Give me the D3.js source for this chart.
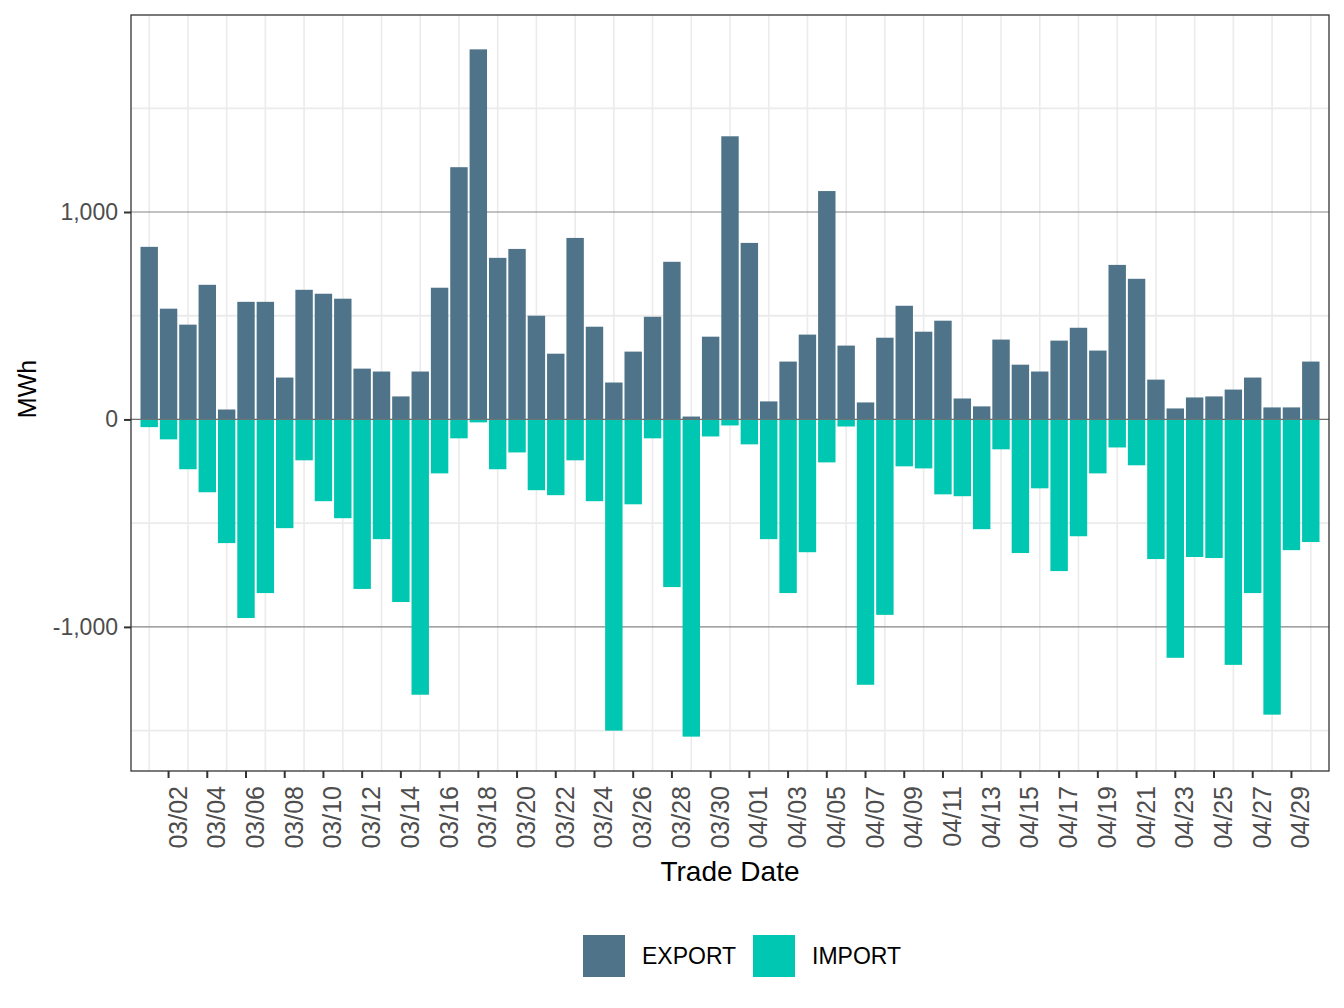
<!DOCTYPE html>
<html>
<head>
<meta charset="utf-8">
<script src="https://cdn.jsdelivr.net/npm/d3@7"></script>
<style>
body { margin: 0; background: #fff; }
text { font-family: "Liberation Sans", Arial, sans-serif; }
</style>
</head>
<body>
<script>
// trade dates (one bar pair per day)
var dates = [
	"03/01","03/02","03/03","03/04","03/05","03/06","03/07","03/08","03/09","03/10",
	"03/11","03/12","03/13","03/14","03/15","03/16","03/17","03/18","03/19","03/20",
	"03/21","03/22","03/23","03/24","03/25","03/26","03/27","03/28","03/29","03/30","03/31",
	"04/01","04/02","04/03","04/04","04/05","04/06","04/07","04/08","04/09","04/10",
	"04/11","04/12","04/13","04/14","04/15","04/16","04/17","04/18","04/19","04/20",
	"04/21","04/22","04/23","04/24","04/25","04/26","04/27","04/28","04/29","04/30"
];

var exportMWh = [
	832, 534, 457, 649, 48, 567, 567, 202, 625, 606, 582, 245, 231, 111, 231,
	635, 1216, 1784, 779, 822, 500, 317, 875, 447, 178, 327, 495, 760, 14, 399,
	1365, 851, 87, 279, 409, 1101, 356, 82, 394, 548, 423, 476, 101, 63, 385, 264,
	231, 380, 442, 332, 745, 678, 192, 53, 106, 111, 144, 202, 58, 58, 279
];

var importMWh = [
	-37, -96, -240, -351, -596, -957, -837, -524, -197, -394, -476, -817, -577, -880, -1327,
	-260, -91, -14, -240, -159, -341, -365, -197, -394, -1500, -409, -91, -808, -1529, -82,
	-29, -120, -577, -837, -640, -207, -34, -1279, -942, -226, -236, -361, -370, -529, -144, -644,
	-332, -731, -563, -260, -135, -221, -673, -1149, -663, -668, -1183, -837, -1423, -630, -591
];

var tickLabels = [
	"03/02","03/04","03/06","03/08","03/10","03/12","03/14","03/16","03/18","03/20",
	"03/22","03/24","03/26","03/28","03/30","04/01","04/03","04/05","04/07","04/09",
	"04/11","04/13","04/15","04/17","04/19","04/21","04/23","04/25","04/27","04/29"
];
var yTicks = [-1000, 0, 1000];
var yMinor = [-1500, -500, 500, 1500];
var series = ["EXPORT", "IMPORT"];
var colors = ["#4F7489", "#00C7B1"];

var w = 1344, h = 1008;
var pL = 131, pR = 1329, pT = 15, pB = 771;

var svg = d3.select("body")
	.append("svg")
	.attr("width", w)
	.attr("height", h);

//scales
var x = d3.scaleBand()
	.domain(dates)
	.range([pL, pR])
	.paddingInner(0.1)
	.paddingOuter(0.49);

var lo = d3.min(importMWh), hi = d3.max(exportMWh);
var pad = (hi - lo) * 0.05;
var y = d3.scaleLinear()
	.domain([lo - pad, hi + pad])
	.range([pB, pT]);

var cx = d => x(d) + x.bandwidth() / 2;

//grid
svg.selectAll("line.vgrid")
	.data(dates.filter((d, i) => i % 2 == 0))
	.enter()
	.append("line")
	.attr("class", "vgrid")
	.attr("x1", cx).attr("x2", cx)
	.attr("y1", pT).attr("y2", pB)
	.attr("stroke", "#EBEBEB")
	.attr("stroke-width", 1.6);

svg.selectAll("line.hminor")
	.data(yMinor)
	.enter()
	.append("line")
	.attr("class", "hminor")
	.attr("x1", pL).attr("x2", pR)
	.attr("y1", d => y(d)).attr("y2", d => y(d))
	.attr("stroke", "#EBEBEB")
	.attr("stroke-width", 1.8);

svg.selectAll("line.hmajor")
	.data(yTicks)
	.enter()
	.append("line")
	.attr("class", "hmajor")
	.attr("x1", pL).attr("x2", pR)
	.attr("y1", d => y(d)).attr("y2", d => y(d))
	.attr("stroke", "#858585")
	.attr("stroke-width", 1.2);

//bars
svg.selectAll("rect.export")
	.data(dates)
	.enter()
	.append("rect")
	.attr("class", "export")
	.attr("x", d => x(d))
	.attr("width", x.bandwidth())
	.attr("y", (d, i) => y(exportMWh[i]))
	.attr("height", (d, i) => y(0) - y(exportMWh[i]))
	.attr("fill", colors[0]);

svg.selectAll("rect.import")
	.data(dates)
	.enter()
	.append("rect")
	.attr("class", "import")
	.attr("x", d => x(d))
	.attr("width", x.bandwidth())
	.attr("y", y(0))
	.attr("height", (d, i) => y(importMWh[i]) - y(0))
	.attr("fill", colors[1]);

// zero line shows over the bar joint
svg.append("line")
	.attr("x1", pL).attr("x2", pR)
	.attr("y1", y(0)).attr("y2", y(0))
	.attr("stroke", "#707070")
	.attr("stroke-width", 1);

//panel border
svg.append("rect")
	.attr("x", pL).attr("y", pT)
	.attr("width", pR - pL).attr("height", pB - pT)
	.attr("fill", "none")
	.attr("stroke", "#333333")
	.attr("stroke-width", 1.3);

//axes
var xAxis = d3.axisBottom(x)
	.tickValues(tickLabels)
	.tickSize(7)
	.tickSizeOuter(0);

var gx = svg.append("g")
	.attr("transform", "translate(0," + pB + ")")
	.call(xAxis);
gx.select(".domain").remove();
gx.selectAll(".tick line").attr("stroke", "#333333").attr("stroke-width", 2);
gx.selectAll(".tick text")
	.attr("transform", "rotate(-90)")
	.attr("text-anchor", "end")
	.attr("x", -15)
	.attr("y", 0)
	.attr("dy", "0.72em")
	.attr("fill", "#4D4D4D")
	.attr("font-size", "25px")
	.attr("font-family", "Liberation Sans, Arial, sans-serif");

var yAxis = d3.axisLeft(y)
	.tickValues(yTicks)
	.tickSize(7)
	.tickPadding(6)
	.tickSizeOuter(0)
	.tickFormat(d => d3.format(",")(d).replace("\u2212", "-"));

var gy = svg.append("g")
	.attr("transform", "translate(" + pL + ",0)")
	.call(yAxis);
gy.select(".domain").remove();
gy.selectAll(".tick line").attr("stroke", "#333333").attr("stroke-width", 2);
gy.selectAll(".tick text")
	.attr("fill", "#4D4D4D")
	.attr("font-size", "23px")
	.attr("font-family", "Liberation Sans, Arial, sans-serif");

//axis titles
svg.append("text")
	.text("Trade Date")
	.attr("x", (pL + pR) / 2)
	.attr("y", 881)
	.attr("text-anchor", "middle")
	.attr("font-size", "28px")
	.attr("fill", "#000");

svg.append("text")
	.text("MWh")
	.attr("transform", "rotate(-90)")
	.attr("x", -(pT + pB) / 2 + 4)
	.attr("y", 36)
	.attr("text-anchor", "middle")
	.attr("font-size", "25px")
	.attr("fill", "#000");

//legend
var legendX = [583, 753];
var lg = svg.selectAll("g.legend")
	.data(series)
	.enter()
	.append("g")
	.attr("class", "legend")
	.attr("transform", (d, i) => "translate(" + legendX[i] + ",935)");

lg.append("rect")
	.attr("width", 42)
	.attr("height", 42)
	.attr("fill", (d, i) => colors[i]);

lg.append("text")
	.text(d => d)
	.attr("x", 59)
	.attr("y", 29)
	.attr("font-size", "23px")
	.attr("fill", "#000");
</script>
</body>
</html>
